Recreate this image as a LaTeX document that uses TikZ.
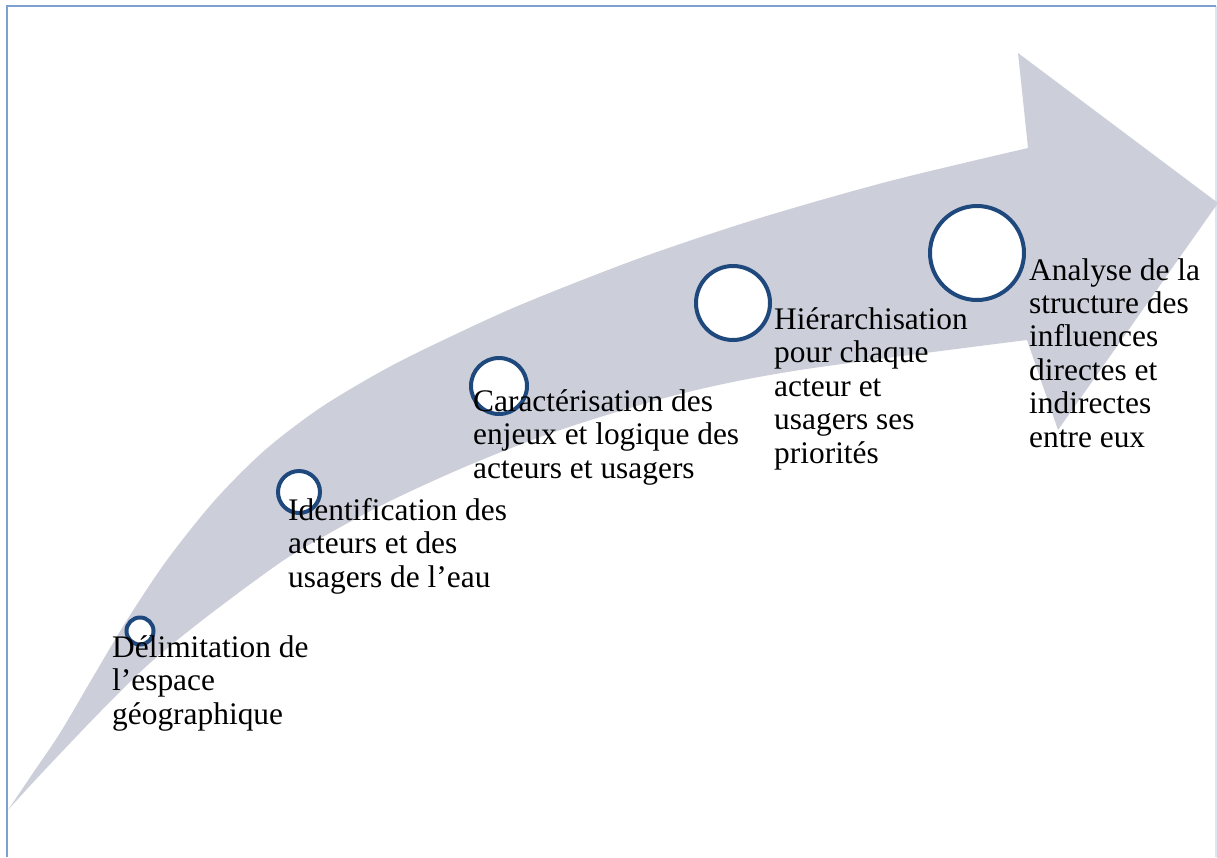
\documentclass[tikz,border=0pt]{standalone}
\usepackage{fontspec}
\setmainfont{Liberation Serif}
\usepackage{tikz}
\definecolor{arrowgray}{RGB}{204,207,218}
\definecolor{ringblue}{RGB}{31,73,125}
\definecolor{frameblue}{RGB}{124,160,210}
\definecolor{framefaint}{RGB}{220,230,242}

\begin{document}
\begin{tikzpicture}[x=1pt,y=-1pt,
  step node/.style={circle,draw=ringblue,fill=white,line width=4pt,inner sep=0pt},
  label node/.style={anchor=base west,align=left,inner sep=0pt,
    font=\fontsize{31.4}{33.4}\selectfont}]
  \useasboundingbox (0,0) rectangle (1217,857);
  \draw[framefaint,line width=1.5pt] (1216,6) -- (1216,857);
  \draw[frameblue,line width=2.5pt] (7,857) -- (7,6) -- (1216,6);
  \fill[arrowgray] plot[smooth] coordinates {(8,810) (33,773) (60,733) (93,677)
      (127,620) (167,560) (215,500) (265,450) (320,408) (380,372) (433,345)
      (520,305) (640,258) (760,218) (890,181) (1028,148)}
    -- (1018,53) -- (1218,203) -- (1058,430)
    -- plot[smooth] coordinates {(1027,340) (800,370) (680,394) (560,430)
      (467,466) (380,506) (300,550) (260,577) (200,622) (150,663) (100,712)
      (40,775) (8,810)}
    -- cycle;
  \node[step node,minimum size=27pt] (step_1) at (140,631) {};
  \node[step node,minimum size=42pt] (step_2) at (299,492) {};
  \node[step node,minimum size=56pt] (step_3) at (499,386) {};
  \node[step node,minimum size=74pt] (step_4) at (733,303) {};
  \node[step node,minimum size=94pt] (step_5) at (977,253) {};
  \node[label node] (text_1) at (112,724) {Délimitation de\\l’espace\\géographique};
  \node[label node] (text_2) at (288,587) {Identification des\\acteurs et des\\usagers de l’eau};
  \node[label node] (text_3) at (473,478) {Caractérisation des\\enjeux et logique des\\acteurs et usagers};
  \node[label node] (text_4) at (774,463) {Hiérarchisation\\pour chaque\\acteur et\\usagers ses\\priorités};
  \node[label node] (text_5) at (1029,447) {Analyse de la\\structure des\\influences\\directes et\\indirectes\\entre eux};
\end{tikzpicture}
\end{document}
